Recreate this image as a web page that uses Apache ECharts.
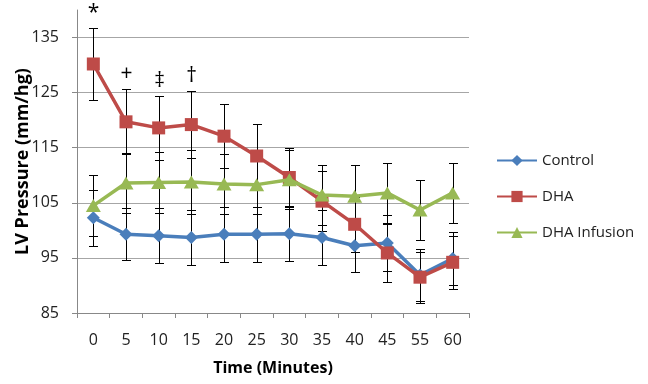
<!DOCTYPE html>
<html>
<head>
<meta charset="utf-8">
<script src="https://cdn.jsdelivr.net/npm/echarts@6/dist/echarts.min.js"></script>
<style>html,body{margin:0;padding:0;background:#fff}#c{width:648px;height:384px}</style>
</head>
<body>
<div id="c"></div>
<script>
const categories = ['0','5','10','15','20','25','30','35','40','45','55','60'];
const control = [102.3, 99.3, 99.0, 98.7, 99.3, 99.3, 99.4, 98.7, 97.2, 97.7, 91.9, 94.9];
const controlErr = [5.1, 4.7, 5.0, 5.0, 5.0, 5.0, 5.0, 5.0, 4.8, 5.0, 4.8, 4.8];
const dha = [130.2, 119.7, 118.6, 119.2, 117.1, 113.5, 109.6, 105.3, 101.1, 95.9, 91.5, 94.2];
const dhaErr = [6.5, 5.9, 5.8, 6.1, 5.8, 5.8, 5.4, 5.5, 5.0, 5.3, 4.6, 4.8];
const infusion = [104.5, 108.6, 108.7, 108.8, 108.4, 108.3, 109.2, 106.4, 106.2, 106.8, 103.7, 106.8];
const infusionErr = [5.6, 5.4, 5.6, 5.8, 5.5, 5.3, 5.4, 5.5, 5.6, 5.5, 5.4, 5.5];
const annotations = ['*', '+', '\u2021', '\u2020', '', '', '', '', '', '', '', ''];
const yTicks = [85, 95, 105, 115, 125, 135];

const FONT = 'Open Sans';
const chart = echarts.init(document.getElementById('c'), null, {renderer: 'canvas'});

function errData(vals, errs) {
  return vals.map((v, i) => [i, v - errs[i], v + errs[i]]);
}
function makeErrRender(notes) {
  return function (params, api) {
    const i = api.value(0);
    const hi = api.coord([i, api.value(2)]);
    const lo = api.coord([i, api.value(1)]);
    const x = Math.round(hi[0]) + 0.5;
    const yh = Math.round(hi[1]) + 0.5;
    const yl = Math.round(lo[1]) + 0.5;
    const hw = 4.5;
    const st = {stroke: '#000', lineWidth: 1};
    const children = [
      {type: 'line', shape: {x1: x, y1: yh, x2: x, y2: yl}, style: st},
      {type: 'line', shape: {x1: x - hw, y1: yh, x2: x + hw, y2: yh}, style: st},
      {type: 'line', shape: {x1: x - hw, y1: yl, x2: x + hw, y2: yl}, style: st}
    ];
    if (notes && notes[params.dataIndex]) {
      children.push({
        type: 'text',
        style: {
          text: notes[params.dataIndex], x: x, y: yh - 15,
          align: 'center', verticalAlign: 'middle',
          font: '21px "' + FONT + '"', fill: '#000'
        }
      });
    }
    return {type: 'group', children: children};
  };
}

const option = {
  backgroundColor: '#fff',
  animation: false,
  grid: {left: 77, right: 179, top: 10, bottom: 71, containLabel: false, outerBoundsMode: 'none'},
  legend: {
    orient: 'vertical', left: 491, top: 148,
    itemWidth: 40, itemHeight: 14, itemGap: 21,
    data: ['Control', 'DHA', 'DHA Infusion'],
    textStyle: {fontFamily: FONT, fontSize: 15, color: '#222'}
  },
  xAxis: {
    type: 'category', data: categories, boundaryGap: true,
    name: 'Time (Minutes)', nameLocation: 'middle', nameGap: 47, nameMoveOverlap: false,
    nameTextStyle: {fontFamily: FONT, fontSize: 16, fontWeight: 'bold', color: '#000'},
    axisLine: {lineStyle: {color: '#888', width: 1}},
    axisTick: {show: true, length: 5, inside: false, alignWithLabel: false, lineStyle: {color: '#888'}},
    axisLabel: {fontFamily: FONT, fontSize: 16, color: '#222', margin: 19, interval: 0},
    splitLine: {show: false}
  },
  yAxis: {
    type: 'value', min: 85, max: 140, interval: 10,
    name: 'LV Pressure (mm/hg)', nameLocation: 'middle', nameGap: 45, nameRotate: 90, nameMoveOverlap: false,
    nameTextStyle: {fontFamily: FONT, fontSize: 18, fontWeight: 'bold', color: '#000'},
    axisLine: {show: true, lineStyle: {color: '#888', width: 1}},
    axisTick: {show: true, length: 5, lineStyle: {color: '#888'}, customValues: yTicks},
    axisLabel: {fontFamily: FONT, fontSize: 16, color: '#222', margin: 18, customValues: yTicks},
    splitLine: {show: true, lineStyle: {color: '#a6a6a6', width: 1}}
  },
  series: [
    {type: 'custom', name: 'errControl', data: errData(control, controlErr), renderItem: makeErrRender(null), z: 1, silent: true},
    {type: 'custom', name: 'errDHA', data: errData(dha, dhaErr), renderItem: makeErrRender(annotations), z: 1, silent: true},
    {type: 'custom', name: 'errInfusion', data: errData(infusion, infusionErr), renderItem: makeErrRender(null), z: 1, silent: true},
    {type: 'line', name: 'Control', data: control, symbol: 'diamond', symbolSize: 13,
      itemStyle: {color: '#4A7EBB'}, lineStyle: {color: '#4A7EBB', width: 3.5}, z: 3},
    {type: 'line', name: 'DHA', data: dha, symbol: 'rect', symbolSize: 13,
      itemStyle: {color: '#BE4B48'}, lineStyle: {color: '#BE4B48', width: 3.5}, z: 4},
    {type: 'line', name: 'DHA Infusion', data: infusion, symbol: 'triangle', symbolSize: [15, 13],
      itemStyle: {color: '#98B954'}, lineStyle: {color: '#98B954', width: 3.5}, z: 5}
  ]
};
chart.setOption(option);
</script>
</body>
</html>
